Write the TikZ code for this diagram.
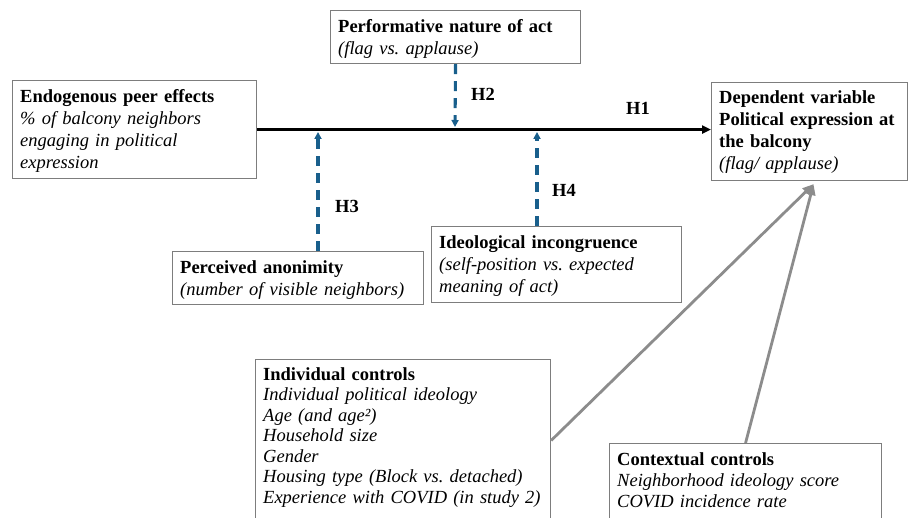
\documentclass[tikz,border=0pt]{standalone}
\usepackage{fontspec}
\setmainfont{Liberation Serif}
\usetikzlibrary{arrows.meta,calc}
\definecolor{boxgray}{RGB}{125,125,125}
\definecolor{dashblue}{RGB}{25,95,140}
\definecolor{arrgray}{RGB}{140,140,140}
\frenchspacing
\begin{document}
\begin{tikzpicture}[x=1pt,y=-1pt,
  box/.style={draw=boxgray, line width=1.1pt, anchor=north west, inner sep=0pt, fill=white},
  txt/.style={anchor=north west, inner xsep=8pt, inner ysep=0pt, align=left, font=\fontsize{18.5}{22}\selectfont},
  hlab/.style={font=\fontsize{18.5}{22}\selectfont\bfseries, inner sep=0pt},
  mainarr/.style={line width=2.8pt, -{Triangle[length=9pt,width=8pt]}},
  dasharr/.style={draw=dashblue, line width=3.1pt, dash pattern=on 10pt off 7pt, -{Triangle[length=7pt,width=7pt]}},
  grayarr/.style={draw=arrgray, line width=2.8pt, -{Triangle[length=11pt,width=9pt]}}
]
\useasboundingbox (0,0) rectangle (908,518);
\clip (0,0) rectangle (908,518);

% boxes
\node[box, minimum width=244pt, minimum height=98pt] (endo) at (12,80) {};
\node[box, minimum width=250pt, minimum height=53pt] (perf) at (330,10) {};
\node[box, minimum width=196pt, minimum height=98pt] (dep) at (711,82) {};
\node[box, minimum width=251pt, minimum height=53pt] (perc) at (172,251) {};
\node[box, minimum width=250pt, minimum height=76pt] (ideo) at (431,226) {};
\node[box, minimum width=295pt, minimum height=162pt] (ind) at (255,359) {};
\node[box, minimum width=272pt, minimum height=90pt] (cont) at (609,443) {};

% texts
\node[txt, text width=228pt] (endo-t) at (endo.north west)
  {\rule{0pt}{22pt}\textbf{Endogenous peer effects}\\ \itshape \% of balcony neighbors\\ engaging in political\\ expression};
\node[txt, text width=234pt] (perf-t) at (perf.north west)
  {\rule{0pt}{22pt}\textbf{Performative nature of act}\\ \itshape (flag vs. applause)};
\node[txt, text width=182pt] (dep-t) at (dep.north west)
  {\rule{0pt}{21pt}\textbf{Dependent variable}\\ \textbf{Political expression at}\\ \textbf{the balcony}\\ \itshape (flag/ applause)};
\node[txt, text width=235pt] (perc-t) at (perc.north west)
  {\rule{0pt}{22pt}\textbf{Perceived anonimity}\\ \itshape (number of visible neighbors)};
\node[txt, text width=234pt] (ideo-t) at (ideo.north west)
  {\rule{0pt}{22pt}\textbf{Ideological incongruence}\\ \itshape (self-position vs. expected\\ meaning of act)};
\node[txt, text width=279pt, font=\fontsize{18.5}{20.5}\selectfont] (ind-t) at (ind.north west)
  {\rule{0pt}{21pt}\textbf{Individual controls}\\ \itshape Individual political ideology\\ Age (and age²)\\ Household size\\ Gender\\ Housing type (Block vs. detached)\\ Experience with COVID (in study 2)};
\node[txt, text width=256pt, font=\fontsize{18.5}{21}\selectfont] (cont-t) at (cont.north west)
  {\rule{0pt}{22pt}\textbf{Contextual controls}\\ \itshape Neighborhood ideology score\\ COVID incidence rate};

% labels
\node[hlab] (h1) at (638,108) {H1};
\node[hlab] (h2) at (483,94) {H2};
\node[hlab] (h3) at (347,206) {H3};
\node[hlab] (h4) at (564,190) {H4};

% connectors
\draw[mainarr] (endo.east) -- (endo.east -| dep.west);
\coordinate (m2) at (455,127);
\coordinate (m3) at (318,132);
\coordinate (m4) at (537,132);
\draw[dasharr] (perf.south) -- (m2);
\draw[dasharr] (perc.north -| m3) -- (m3);
\draw[dasharr] (ideo.north -| m4) -- (m4);
\draw[grayarr] (ind.east) -- ([xshift=4pt,yshift=-3pt]dep.south);
\draw[grayarr] (cont.north) -- ([xshift=4pt,yshift=-3pt]dep.south);
\end{tikzpicture}
\end{document}
